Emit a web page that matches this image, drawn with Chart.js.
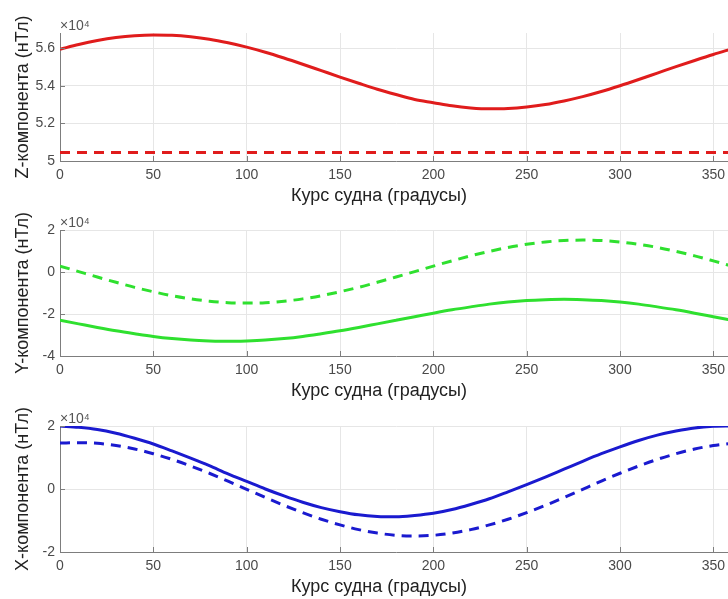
<!DOCTYPE html>
<html>
<head>
<meta charset="utf-8">
<script src="https://cdn.jsdelivr.net/npm/chart.js@4"></script>
<style>
  html, body { margin: 0; padding: 0; background: #ffffff; overflow: hidden; width: 728px; height: 599px; }
  canvas { position: absolute; left: 0; top: 0; }
</style>
</head>
<body>
<canvas id="cz" width="760" height="599"></canvas>
<canvas id="cy" width="760" height="599"></canvas>
<canvas id="cx" width="760" height="599"></canvas>
<script>
// ---- data (field components in units of 10^4 nT) ----
const course = [0,10,20,30,40,50,60,70,80,90,100,110,120,130,140,150,160,170,180,190,200,210,220,230,240,250,260,270,280,290,300,310,320,330,340,350,360];

const zSolid = [5.594,5.619,5.640,5.656,5.666,5.670,5.668,5.660,5.647,5.628,5.605,5.578,5.547,5.514,5.480,5.446,5.413,5.381,5.353,5.327,5.310,5.293,5.282,5.277,5.279,5.287,5.300,5.319,5.342,5.369,5.400,5.433,5.467,5.501,5.534,5.566,5.596];
const zDashed = [5.045,5.045,5.045,5.045,5.045,5.045,5.045,5.045,5.045,5.045,5.045,5.045,5.045,5.045,5.045,5.045,5.045,5.045,5.045,5.045,5.045,5.045,5.045,5.045,5.045,5.045,5.045,5.045,5.045,5.045,5.045,5.045,5.045,5.045,5.045,5.045,5.045];

const ySolid = [-2.30,-2.47,-2.64,-2.80,-2.94,-3.07,-3.17,-3.24,-3.28,-3.30,-3.28,-3.24,-3.17,-3.07,-2.94,-2.80,-2.64,-2.47,-2.30,-2.13,-1.96,-1.80,-1.66,-1.53,-1.43,-1.36,-1.32,-1.30,-1.32,-1.36,-1.43,-1.53,-1.66,-1.80,-1.96,-2.13,-2.30];
const yDashed = [0.28,0.02,-0.24,-0.49,-0.73,-0.94,-1.13,-1.28,-1.39,-1.46,-1.48,-1.46,-1.39,-1.28,-1.13,-0.94,-0.73,-0.49,-0.24,0.02,0.28,0.53,0.77,0.98,1.17,1.32,1.43,1.50,1.52,1.50,1.43,1.32,1.17,0.98,0.77,0.53,0.28];

const xSolid = [2.00,1.96,1.89,1.77,1.61,1.43,1.21,0.98,0.74,0.48,0.24,0.00,-0.22,-0.42,-0.59,-0.72,-0.82,-0.87,-0.88,-0.84,-0.77,-0.65,-0.49,-0.31,-0.09,0.14,0.38,0.63,0.88,1.12,1.34,1.54,1.71,1.84,1.94,1.99,2.00];
const xDashed = [1.46,1.47,1.45,1.38,1.27,1.12,0.94,0.73,0.50,0.25,-0.01,-0.27,-0.52,-0.75,-0.96,-1.14,-1.29,-1.40,-1.47,-1.49,-1.47,-1.40,-1.29,-1.14,-0.96,-0.75,-0.52,-0.27,-0.01,0.25,0.50,0.73,0.94,1.12,1.27,1.38,1.45];

// ---- tick labels ----
const courseTicks = [0,50,100,150,200,250,300,350];
const zTicks = [5,5.2,5.4,5.6];
const yTicks = [-4,-2,0,2];
const xTicks = [-2,0,2];

const xLabel = 'Курс судна (градусы)';
const scaleNote = '×10⁴';

// ---- styling ----
const FONT = "'Liberation Sans', Arial, Helvetica, sans-serif";
const AXIS = '#7d7d7d';
const GRID = '#e6e6e6';
const TICKTXT = '#4a4a4a';
const TITLETXT = '#222222';
Chart.defaults.font.family = FONT;

const innerTicks = {
  id: 'innerTicks',
  afterDraw(chart) {
    const {ctx, chartArea: a, scales} = chart;
    const sx = scales.x, sy = scales.y;
    ctx.save();
    ctx.strokeStyle = AXIS;
    ctx.lineWidth = 1;
    ctx.beginPath();
    sx.ticks.forEach(t => {
      const px = Math.round(sx.getPixelForValue(t.value)) + 0.5;
      ctx.moveTo(px, a.bottom); ctx.lineTo(px, a.bottom - 5);
    });
    sy.ticks.forEach(t => {
      const py = Math.round(sy.getPixelForValue(t.value)) + 0.5;
      ctx.moveTo(a.left, py); ctx.lineTo(a.left + 5, py);
    });
    ctx.stroke();
    ctx.restore();
  }
};

function pts(arr) { return course.map((c, i) => ({x: c, y: arr[i]})); }

function fmt(v) { return String(Math.round(v * 100) / 100); }

function makeChart(id, cfg) {
  const ds = cfg.series.map(s => ({
    data: pts(s.values),
    borderColor: s.color,
    borderWidth: 3,
    borderDash: s.dashed ? [10, 7] : [],
    pointRadius: 0,
    fill: false,
    cubicInterpolationMode: 'monotone'
  }));
  return new Chart(document.getElementById(id), {
    type: 'line',
    data: { datasets: ds },
    plugins: [innerTicks],
    options: {
      responsive: false,
      animation: false,
      devicePixelRatio: 1,
      layout: { padding: { left: 26, right: 28, top: cfg.top, bottom: cfg.bottom } },
      plugins: {
        legend: { display: false },
        tooltip: { enabled: false },
        subtitle: {
          display: true, text: scaleNote, position: 'top', align: 'start', fullSize: false,
          color: '#555555', font: { size: 14, lineHeight: '14px' }, padding: { top: 0, bottom: 0 }
        },
        title: {
          display: true, text: xLabel, position: 'bottom', align: 'center',
          color: TITLETXT, font: { size: 18, weight: 'normal', lineHeight: '22px' },
          padding: { top: 2, bottom: 0 }
        }
      },
      scales: {
        x: {
          type: 'linear', min: 0, max: 360,
          afterBuildTicks: s => { s.ticks = courseTicks.map(v => ({ value: v })); },
          afterFit: s => { s.height = 22; },
          ticks: { color: TICKTXT, font: { size: 14 }, padding: 6, maxRotation: 0, callback: v => fmt(v) },
          grid: { color: GRID, drawTicks: false },
          border: { display: true, color: AXIS, width: 1 }
        },
        y: {
          type: 'linear', min: cfg.ymin, max: cfg.ymax,
          afterBuildTicks: s => { s.ticks = cfg.ticks.map(v => ({ value: v })); },
          afterFit: s => { s.width = 34; },
          ticks: { color: TICKTXT, font: { size: 14 }, padding: 5, callback: v => fmt(v) },
          grid: { color: GRID, drawTicks: false },
          border: { display: true, color: AXIS, width: 1 },
          title: {
            display: true, text: cfg.title, color: TITLETXT,
            font: { size: 18, lineHeight: '22px' }, padding: { top: -14, bottom: 0 }
          }
        }
      }
    }
  });
}

makeChart('cz', {
  top: 19, bottom: 392, ymin: 5, ymax: 5.68, ticks: zTicks, title: 'Z-компонента (нТл)',
  series: [
    { values: zSolid, color: '#e01c1c', dashed: false },
    { values: zDashed, color: '#e01c1c', dashed: true }
  ]
});
makeChart('cy', {
  top: 216, bottom: 197, ymin: -4, ymax: 2, ticks: yTicks, title: 'Y-компонента (нТл)',
  series: [
    { values: ySolid, color: '#2fe02f', dashed: false },
    { values: yDashed, color: '#2fe02f', dashed: true }
  ]
});
makeChart('cx', {
  top: 412, bottom: 1, ymin: -2, ymax: 2, ticks: xTicks, title: 'X-компонента (нТл)',
  series: [
    { values: xSolid, color: '#1a1acf', dashed: false },
    { values: xDashed, color: '#1a1acf', dashed: true }
  ]
});
</script>
</body>
</html>
